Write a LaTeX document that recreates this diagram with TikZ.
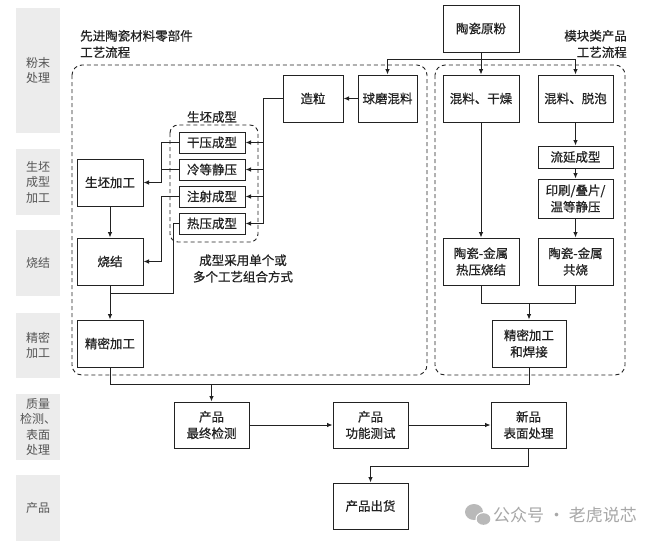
\documentclass[tikz,border=0pt]{standalone}
\usepackage{fontspec}
\setmainfont{Noto Sans CJK SC}
\newfontfamily\boxfont{Noto Sans CJK SC}[FakeBold=0.6]
\usetikzlibrary{arrows.meta}
\definecolor{lblfill}{HTML}{ECECEC}
\definecolor{lbltext}{HTML}{555555}
\definecolor{ink}{HTML}{222222}
\definecolor{wm}{HTML}{A8A8A8}
\tikzset{
  bx/.style 2 args={draw=ink, line width=1pt, minimum width=#1, minimum height=#2, inner sep=0pt, align=center, text=ink, font=\boxfont\fontsize{12.5}{16.5}\selectfont},
  lbl/.style={fill=lblfill, minimum width=44pt, minimum height=#1, inner sep=0pt, align=center, text=lbltext, font=\fontsize{12}{15.5}\selectfont},
  ln/.style={draw=ink, line width=0.9pt},
  arr/.style={ln, -{Latex[length=5.5pt,width=4.5pt]}},
  dbox/.style={draw=ink, line width=0.9pt, dash pattern=on 4pt off 3pt},
  txt/.style={text=ink, font=\boxfont\fontsize{12.5}{16.5}\selectfont, inner sep=0pt}
}
\begin{document}
\begin{tikzpicture}[x=1pt,y=-1pt]
\useasboundingbox (0,0) rectangle (660,541);
\fill[white] (0,0) rectangle (660,541);

% stage labels
\node[lbl=125pt] (l1) at (38,70.5) {粉末\\处理};
\node[lbl=66pt] (l2) at (38,182) {生坯\\成型\\加工};
\node[lbl=66pt] (l3) at (38,263) {烧结};
\node[lbl=65pt] (l4) at (38,345.5) {精密\\加工};
\node[lbl=66pt] (l5) at (38,427) {质量\\检测、\\表面\\处理};
\node[lbl=66pt] (l6) at (38,508) {产品};

% dashed groups
\draw[dbox, rounded corners=10pt] (72,65) rectangle (427,375);
\draw[dbox, rounded corners=10pt] (435,65) rectangle (625,375);
\draw[dbox, rounded corners=8pt] (170,125) rectangle (258,242);

% headers
\node[txt, anchor=west, align=left] (h1) at (80,44) {先进陶瓷材料零部件\\工艺流程};
\node[txt, anchor=east, align=right] (h2) at (627,44) {模块类产品\\工艺流程};
\node[txt] (h3) at (212,117) {生坯成型};
\node[txt, align=center] (note) at (243,268.5) {成型采用单个或\\多个工艺组合方式};

% boxes
\node[bx={76pt}{47pt}] (yf) at (481,28.5) {陶瓷原粉};
\node[bx={60pt}{47pt}] (zl) at (313,98.5) {造粒};
\node[bx={59pt}{47pt}] (qm) at (387.5,98.5) {球磨混料};
\node[bx={66pt}{21pt}] (gy) at (212,142.5) {干压成型};
\node[bx={66pt}{21pt}] (ld) at (212,169.5) {冷等静压};
\node[bx={66pt}{21pt}] (zs) at (212,196.5) {注射成型};
\node[bx={66pt}{21pt}] (ry) at (212,223.5) {热压成型};
\node[bx={66pt}{47pt}] (sp) at (110,182.5) {生坯加工};
\node[bx={66pt}{47pt}] (sj) at (110,261.5) {烧结};
\node[bx={66pt}{47pt}] (jm) at (110,343.5) {精密加工};

\node[bx={76pt}{47pt}] (hg) at (481,98.5) {混料、干燥};
\node[bx={75pt}{47pt}] (tp) at (575.5,98.5) {混料、脱泡};
\node[bx={75pt}{22pt}] (ly) at (575.5,157) {流延成型};
\node[bx={75pt}{39pt}] (ys) at (575.5,198.5) {印刷/叠片/\\温等静压};
\node[bx={76pt}{47pt}] (rs) at (481,261.5) {陶瓷-金属\\热压烧结};
\node[bx={75pt}{47pt}] (gs) at (575.5,261.5) {陶瓷-金属\\共烧};
\node[bx={74pt}{47pt}] (hj) at (529,343.5) {精密加工\\和焊接};

\node[bx={75pt}{46pt}] (zj) at (211.5,425) {产品\\最终检测};
\node[bx={75pt}{46pt}] (gn) at (370.5,425) {产品\\功能测试};
\node[bx={75pt}{46pt}] (bm) at (528.5,425) {新品\\表面处理};
\node[bx={75pt}{46pt}] (ch) at (370.5,506) {产品出货};

% connectors: top
\coordinate (j) at (481,59);
\draw[arr] (yf.south) -- (hg.north);
\draw[arr] (j) -| (qm.north);
\draw[arr] (j) -| (tp.north);
\draw[arr] (qm.west) -- (zl.east);

% forming bus
\coordinate (bus) at (263,98.5);
\draw[ln] (zl.west) -- (bus) -- (bus |- ry.east);
\foreach \b in {gy,ld,zs,ry} \draw[arr] (bus |- \b.east) -- (\b.east);

\coordinate (c1) at (161,0);
\draw[arr] (gy.west) -- (gy.west -| c1) |- (sp.east);
\draw[ln] (ld.west) -- (ld.west -| c1);
\draw[arr] (zs.west) -- (zs.west -| c1) |- (sj.east);
\coordinate (c2) at (173,293);
\draw[ln] (ry.west) -| (c2) -- (c2 -| sj.south);

\draw[arr] (sp.south) -- (sj.north);
\draw[arr] (sj.south) -- (jm.north);

% right column
\draw[arr] (hg.south) -- (rs.north);
\draw[arr] (tp.south) -- (ly.north);
\draw[arr] (ly.south) -- (ys.north);
\draw[arr] (ys.south) -- (gs.north);
\coordinate (m) at (0,303);
\draw[ln] (rs.south) -- (rs.south |- m) -- (gs.south |- m) -- (gs.south);
\draw[arr] (hj.north |- m) -- (hj.north);

% trunk
\coordinate (t) at (0,384);
\draw[ln] (jm.south) -- (jm.south |- t) -- (hj.south |- t) -- (hj.south);
\draw[arr] (zj.north |- t) -- (zj.north);

% bottom
\draw[arr] (zj.east) -- (gn.west);
\draw[arr] (gn.east) -- (bm.west);
\coordinate (k) at (0,466);
\draw[arr] (bm.south) -- (bm.south |- k) -| (ch.north);

% watermark
\fill[wm!80] (474,512) ellipse (9pt and 8pt);
\fill[white] (483.5,519) ellipse (8pt and 7pt);
\fill[wm!80] (483.5,519) ellipse (6.8pt and 5.8pt);
\node[anchor=west, text=wm, font=\fontsize{17}{18}\selectfont, inner sep=0pt] (wmt) at (493,515) {公众号 · 老虎说芯};
\end{tikzpicture}
\end{document}
